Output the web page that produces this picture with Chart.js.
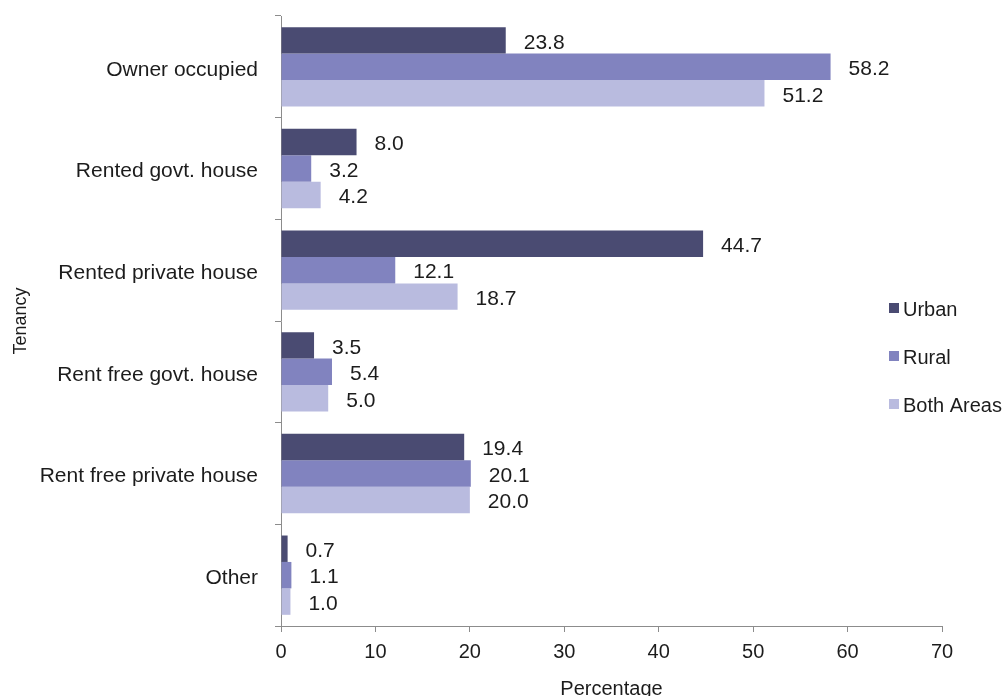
<!DOCTYPE html>
<html>
<head>
<meta charset="utf-8">
<script src="https://cdn.jsdelivr.net/npm/chart.js@4.4.0/dist/chart.umd.min.js"></script>
<style>
  html, body { margin: 0; padding: 0; background: #ffffff; overflow: hidden; }
  #wrap { width: 1007px; height: 696px; position: relative; }
</style>
</head>
<body>
<div id="wrap"><canvas id="chart"></canvas></div>
<script>
// Household tenancy by area (percent of households)
const categories = ['Owner occupied', 'Rented govt. house', 'Rented private house',
                    'Rent free govt. house', 'Rent free private house', 'Other'];
const urban     = [23.8, 8.0, 44.7, 3.5, 19.4, 0.7];
const rural     = [58.2, 3.2, 12.1, 5.4, 20.1, 1.1];
const bothAreas = [51.2, 4.2, 18.7, 5.0, 20.0, 1.0];
const seriesNames = ['Urban', 'Rural', 'Both Areas'];
const xTicks = [0, 10, 20, 30, 40, 50, 60, 70];

const colors = ['#4a4b72', '#8183bf', '#b9bbdf'];
const FONT = '"Liberation Sans", Arial, sans-serif';
const TEXT = '#1c1c1c';
const AXIS = '#8c8c8c';

// Value printed just past the end of each bar
const valueLabels = {
  id: 'valueLabels',
  afterDatasetsDraw(chart) {
    const ctx = chart.ctx;
    ctx.save();
    ctx.font = '21px ' + FONT;
    ctx.fillStyle = TEXT;
    ctx.textAlign = 'left';
    ctx.textBaseline = 'middle';
    chart.data.datasets.forEach((ds, i) => {
      chart.getDatasetMeta(i).data.forEach((bar, j) => {
        ctx.fillText(ds.data[j].toFixed(1), bar.x + 18, bar.y + 2.5);
      });
    });
    ctx.restore();
  }
};

// Square-marker legend stacked at the right side
const sideLegend = {
  id: 'sideLegend',
  afterDraw(chart) {
    const ctx = chart.ctx;
    ctx.save();
    ctx.font = '20px ' + FONT;
    ctx.textAlign = 'left';
    ctx.textBaseline = 'middle';
    const x0 = 889, y0 = 310, gap = 48;
    chart.data.datasets.forEach((ds, i) => {
      const y = y0 + i * gap;
      ctx.fillStyle = ds.backgroundColor;
      ctx.fillRect(x0, y - 7, 10, 10);
      ctx.fillStyle = TEXT;
      ctx.fillText(ds.label, x0 + 14, y);
    });
    ctx.restore();
  }
};

const seriesValues = [urban, rural, bothAreas];

new Chart(document.getElementById('chart'), {
  type: 'bar',
  data: {
    labels: categories,
    datasets: seriesValues.map((vals, i) => ({
      label: seriesNames[i],
      data: vals,
      backgroundColor: colors[i],
      borderWidth: 0,
      barPercentage: 1.0,
      categoryPercentage: 0.78
    }))
  },
  options: {
    indexAxis: 'y',
    responsive: true,
    maintainAspectRatio: false,
    devicePixelRatio: 1,
    animation: false,
    layout: { padding: { top: 16, right: 65, left: 0, bottom: 0 } },
    plugins: {
      legend: { display: false },
      tooltip: { enabled: false }
    },
    scales: {
      x: {
        min: 0,
        max: 70,
        afterBuildTicks(scale) { scale.ticks = xTicks.map(v => ({ value: v })); },
        afterFit(scale) { scale.height = 70; },
        grid: { drawOnChartArea: false, drawTicks: true, tickLength: 6, color: AXIS },
        border: { color: AXIS, width: 1 },
        ticks: { color: TEXT, font: { family: FONT, size: 20 }, padding: 8 },
        title: {
          display: true,
          text: 'Percentage',
          color: TEXT,
          font: { family: FONT, size: 20 },
          padding: { top: 0, bottom: -5 }
        }
      },
      y: {
        afterFit(scale) {
          scale.width = 281;
          scale.paddingTop = 0;
          scale.paddingBottom = 0;
        },
        grid: { drawOnChartArea: false, drawTicks: true, tickLength: 6, color: AXIS, offset: true },
        border: { color: AXIS, width: 1 },
        ticks: { color: TEXT, font: { family: FONT, size: 21 }, padding: 17, labelOffset: 3 },
        title: {
          display: true,
          text: 'Tenancy',
          color: TEXT,
          font: { family: FONT, size: 18 },
          padding: { top: 10, bottom: 0 }
        }
      }
    }
  },
  plugins: [valueLabels, sideLegend]
});
</script>
</body>
</html>
